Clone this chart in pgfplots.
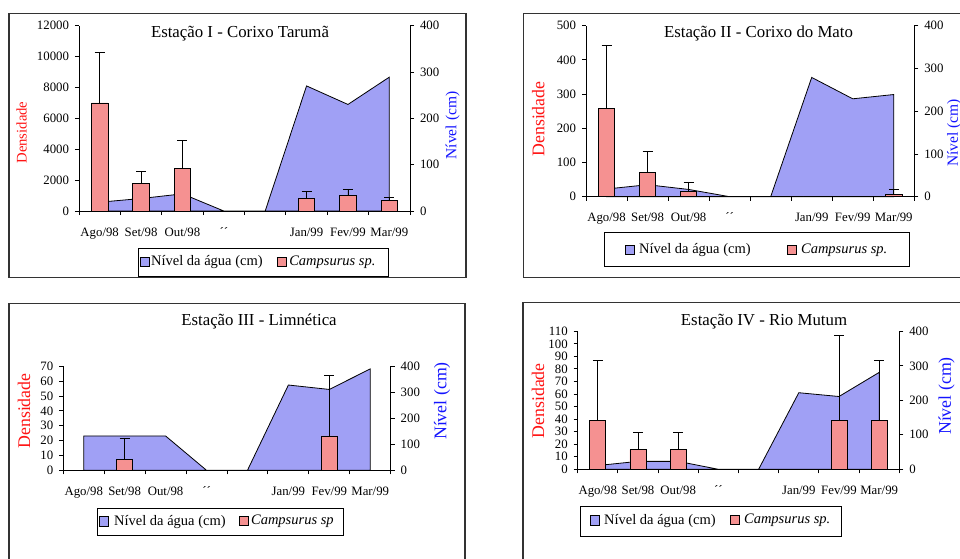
\documentclass[border=0pt]{standalone}
\usepackage{fontspec}
\setmainfont{Liberation Serif}
\usepackage{pgfplots}
\pgfplotsset{compat=1.18}
\definecolor{bluefill}{RGB}{160,160,245}
\definecolor{redfill}{RGB}{245,145,145}
\definecolor{blueL}{RGB}{20,20,255}
\definecolor{redL}{RGB}{255,20,20}
\newcommand\legsq[1]{{\setlength\fboxsep{0pt}\setlength\fboxrule{0.7bp}\raisebox{-0.5bp}{\fcolorbox{black}{#1}{\rule{0pt}{8.5bp}\rule{8.5bp}{0pt}}}}}
\pgfplotsset{
  common/.style={scale only axis, anchor=south west, xmin=-0.5, xmax=7.5, ymin=0,
    tick align=outside, major tick length=4bp, minor tick length=4bp,
    axis line style={line width=0.9bp},
    every tick/.append style={black, line width=0.9bp},
    tick label style={font=\fontsize{12.8bp}{14bp}\selectfont},
    /pgf/number format/assume math mode=true, /pgf/number format/1000 sep={},
    scaled y ticks=false, clip=false},
  leftax/.style={common, axis y line*=left, axis x line*=bottom,
    ybar, bar width=0.4,
    xtick={0,1,2,3,4,5,6,7},
    xticklabels={Ago/98,Set/98,Out/98,´´,,Jan/99,Fev/99,Mar/99},
    minor xtick={-0.5,0.5,1.5,2.5,3.5,4.5,5.5,6.5,7.5},
    major x tick style={draw=none},
    xticklabel style={anchor=base, yshift=-21bp},
    yticklabel style={anchor=east, xshift=-2.5bp}},
  rightax/.style={common, axis y line*=right, axis x line=none, ymax=400,
    ytick={0,100,200,300,400}, yticklabel style={anchor=west, xshift=2.5bp}},
  barplot/.style={fill=redfill, draw=black, line width=0.8bp,
    error bars/.cd, y dir=plus, y explicit,
    error bar style={black, line width=0.8bp},
    error mark options={rotate=90, black, mark size=5bp, line width=0.8bp}},
  areaplot/.style={fill=bluefill, draw=black, line width=0.8bp},
}
\newcommand\legentry[4]{\node[anchor=west, inner sep=0pt, font=\fontsize{14.5bp}{16bp}\selectfont] at (#1bp,#2bp) {\legsq{#3}#4};}
\begin{document}
\begin{tikzpicture}
\useasboundingbox (0,0) rectangle (960bp,-559bp);
\clip (0,0) rectangle (960bp,-559bp);
% frames
\draw[black!80, line width=1.2bp] (9bp,-13.3bp) rectangle (466bp,-277.7bp);
\draw[black!80, line width=1.2bp] (523.3bp,-13.3bp) rectangle (975bp,-277.3bp);
\draw[black!80, line width=1.2bp] (9bp,-303.3bp) rectangle (465bp,-575bp);
\draw[black!80, line width=1.2bp] (523bp,-302.7bp) rectangle (975bp,-575bp);

% ===== Panel I =====
\begin{axis}[rightax, at={(79bp,-211bp)}, width=331bp, height=185.3bp]
\addplot[areaplot] coordinates {(0,19) (1,27) (2,37) (3,0) (4,0) (5,270) (6,230) (7,289)} \closedcycle;
\end{axis}
\begin{axis}[leftax, at={(79bp,-211bp)}, width=331bp, height=185.3bp,
  ymax=12000, ytick={0,2000,4000,6000,8000,10000,12000}]
\addplot[barplot] coordinates {(0,7000) +- (0,3250) (1,1810) +- (0,760) (2,2780) +- (0,1770)
  (5,840) +- (0,430) (6,1010) +- (0,370) (7,690) +- (0,190)};
\end{axis}
\node[font=\fontsize{16.8bp}{18bp}\selectfont, anchor=base] at (240bp,-37.7bp) {Estação I - Corixo Tarumã};
\node[rotate=90, text=redL, font=\fontsize{14.7bp}{16bp}\selectfont] at (21.7bp,-132.5bp) {Densidade};
\node[rotate=90, text=blueL, font=\fontsize{15.5bp}{17bp}\selectfont] at (452.7bp,-125.5bp) {Nível (cm)};
\draw[line width=0.8bp] (138bp,-248.3bp) rectangle (388bp,-276.3bp);
\legentry{140}{-262.5}{bluefill}{\hspace{1bp}Nível da água (cm)}
\legentry{276.7}{-262.5}{redfill}{\hspace{2.5bp}\textit{Campsurus sp.}}

% ===== Panel II =====
\begin{axis}[rightax, at={(586bp,-196.7bp)}, width=328.3bp, height=171bp]
\addplot[areaplot] coordinates {(0,18) (1,28) (2,17) (3,0) (4,0) (5,279) (6,229) (7,239)} \closedcycle;
\end{axis}
\begin{axis}[leftax, at={(586bp,-196.7bp)}, width=328.3bp, height=171bp,
  ymax=500, ytick={0,100,200,300,400,500}]
\addplot[barplot] coordinates {(0,257) +- (0,186) (1,70) +- (0,63.5) (2,16.6) +- (0,26.4)
  (5,0) +- (0,0) (6,0) +- (0,0) (7,7) +- (0,13)};
\end{axis}
\node[font=\fontsize{16.8bp}{18bp}\selectfont, anchor=base] at (758.5bp,-37.7bp) {Estação II - Corixo do Mato};
\node[rotate=90, text=redL, font=\fontsize{17.8bp}{19bp}\selectfont] at (538.3bp,-119bp) {Densidade};
\node[rotate=90, text=blueL, font=\fontsize{15.5bp}{17bp}\selectfont] at (954bp,-133bp) {Nível (cm)};
\draw[line width=0.8bp] (604bp,-232.3bp) rectangle (909.3bp,-266.7bp);
\legentry{625}{-250}{bluefill}{\hspace{4bp}Nível da água (cm)}
\legentry{787}{-250}{redfill}{\hspace{4bp}\textit{Campsurus sp.}}

% ===== Panel III =====
\begin{axis}[rightax, at={(63.3bp,-470.3bp)}, width=327.4bp, height=104bp]
\addplot[areaplot] coordinates {(0,132) (1,132) (2,132) (3,0) (4,0) (5,328) (6,311) (7,390)} \closedcycle;
\end{axis}
\begin{axis}[leftax, at={(63.3bp,-470.3bp)}, width=327.4bp, height=104bp,
  ymax=70, ytick={0,10,20,30,40,50,60,70}]
\addplot[barplot] coordinates {(1,7.6) +- (0,14.2) (6,23.1) +- (0,40.6)};
\end{axis}
\node[font=\fontsize{16.8bp}{18bp}\selectfont, anchor=base] at (259bp,-325bp) {Estação III - Limnética};
\node[rotate=90, text=redL, font=\fontsize{17.8bp}{19bp}\selectfont] at (24bp,-411bp) {Densidade};
\node[rotate=90, text=blueL, font=\fontsize{17.8bp}{19bp}\selectfont] at (442bp,-401bp) {Nível (cm)};
\draw[line width=0.8bp] (97.3bp,-508.3bp) rectangle (343.3bp,-535.7bp);
\legentry{99}{-521.7}{bluefill}{\hspace{5bp}Nível da água (cm)}
\legentry{239}{-521.7}{redfill}{\hspace{2bp}\textit{Campsurus sp}}

% ===== Panel IV =====
\begin{axis}[rightax, at={(577.7bp,-469.3bp)}, width=321.6bp, height=138bp]
\addplot[areaplot] coordinates {(0,11) (1,23) (2,23) (3,0) (4,0) (5,222) (6,211) (7,281)} \closedcycle;
\end{axis}
\begin{axis}[leftax, at={(577.7bp,-469.3bp)}, width=321.6bp, height=138bp,
  ymax=110, ytick={0,10,20,30,40,50,60,70,80,90,100,110}]
\addplot[barplot] coordinates {(0,39) +- (0,48) (1,15.7) +- (0,13.5) (2,15.7) +- (0,13.5)
  (6,39) +- (0,67.8) (7,39) +- (0,48)};
\end{axis}
\node[font=\fontsize{16.8bp}{18bp}\selectfont, anchor=base] at (764bp,-325bp) {Estação IV - Rio Mutum};
\node[rotate=90, text=redL, font=\fontsize{17.8bp}{19bp}\selectfont] at (538bp,-400.8bp) {Densidade};
\node[rotate=90, text=blueL, font=\fontsize{17.8bp}{19bp}\selectfont] at (946.5bp,-396bp) {Nível (cm)};
\draw[line width=0.8bp] (580bp,-506.7bp) rectangle (841.7bp,-536.7bp);
\legentry{590}{-520.7}{bluefill}{\hspace{4bp}Nível da água (cm)}
\legentry{730}{-520.7}{redfill}{\hspace{4bp}\textit{Campsurus sp.}}
\end{tikzpicture}
\end{document}
